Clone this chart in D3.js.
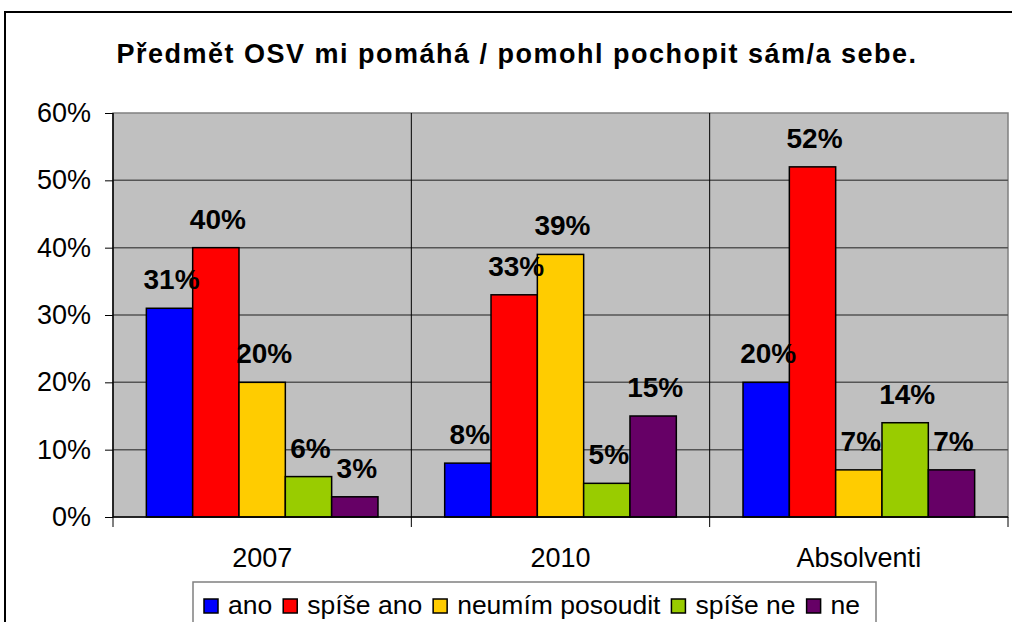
<!DOCTYPE html>
<html><head><meta charset="utf-8">
<script src="https://cdn.jsdelivr.net/npm/d3@7"></script>
<style>
html,body{margin:0;padding:0;background:#fff;}
svg{display:block;font-family:"Liberation Sans",Arial,sans-serif;}
</style></head>
<body>
<svg id="chart" width="1012" height="622"></svg>
<script>
const title = "Předmět OSV mi pomáhá / pomohl pochopit sám/a sebe.";
const categories = ["2007", "2010", "Absolventi"];
const seriesNames = ["ano", "spíše ano", "neumím posoudit", "spíše ne", "ne"];
const seriesColors = ["#0000FF", "#FF0000", "#FFCC00", "#99CC00", "#660066"];
const ano = [31, 8, 20];
const spiseAno = [40, 33, 52];
const neumim = [20, 39, 7];
const spiseNe = [6, 5, 14];
const ne = [3, 15, 7];
const yTicks = [0, 10, 20, 30, 40, 50, 60];

const seriesValues = [ano, spiseAno, neumim, spiseNe, ne];
const data = [];
categories.forEach((c, ci) => seriesNames.forEach((s, si) => data.push({cat: c, ser: s, si, v: seriesValues[si][ci]})));

const svg = d3.select("#chart");
const X0 = 113, X1 = 1008, Y0 = 113, Y1 = 517;

// outer chart border
svg.append("path").attr("d", `M5,640 L5,12 L1020,12`).attr("fill", "none").attr("stroke", "#000").attr("stroke-width", 2);

const tt = svg.append("text").attr("x", 517).attr("y", 63).attr("text-anchor", "middle")
  .attr("font-size", 27).attr("font-weight", "bold").text(title);
// spread letters to the width of the original title
const baseW = tt.node().getComputedTextLength();
tt.attr("letter-spacing", (801 - baseW) / title.length);

const y = d3.scaleLinear().domain([0, 60]).range([Y1, Y0]);
const x0 = d3.scaleBand().domain(categories).range([X0, X1]).padding(0);
const x1 = d3.scaleBand().domain(seriesNames).range([0, x0.bandwidth()]).paddingInner(0).paddingOuter(0.72);
const color = d3.scaleOrdinal().domain(seriesNames).range(seriesColors);

// plot background
svg.append("rect").attr("x", X0).attr("y", Y0).attr("width", X1 - X0).attr("height", Y1 - Y0)
  .attr("fill", "#C0C0C0").attr("stroke", "#808080").attr("stroke-width", 1.5);

// gridlines
svg.append("g").selectAll("line").data(yTicks.filter(t => t > 0 && t < 60)).join("line")
  .attr("x1", X0).attr("x2", X1).attr("y1", d => y(d)).attr("y2", d => y(d))
  .attr("stroke", "#555").attr("stroke-width", 1.5);

// category separators
svg.append("g").selectAll("line").data(categories.slice(1)).join("line")
  .attr("x1", d => x0(d)).attr("x2", d => x0(d)).attr("y1", Y0).attr("y2", Y1)
  .attr("stroke", "#000").attr("stroke-width", 1);

// bars
svg.append("g").selectAll("rect").data(data).join("rect")
  .attr("x", d => x0(d.cat) + x1(d.ser)).attr("y", d => y(d.v))
  .attr("width", x1.bandwidth()).attr("height", d => y(0) - y(d.v))
  .attr("fill", d => color(d.ser)).attr("stroke", "#000").attr("stroke-width", 1.5);

// y axis
const yAxis = d3.axisLeft(y).tickValues(yTicks).tickFormat(d => d + "%").tickSize(8).tickPadding(14);
const gy = svg.append("g").attr("transform", `translate(${X0},0)`).call(yAxis);
gy.select(".domain").attr("stroke", "#000").attr("stroke-width", 1.5).attr("d", `M0,${Y0}V${Y1}`);
gy.selectAll(".tick line").attr("stroke", "#000");
gy.selectAll("text").attr("font-size", 27).attr("font-family", "Liberation Sans, Arial, sans-serif").attr("fill", "#000");

// x axis
const xAxis = d3.axisBottom(x0).tickSize(0).tickPadding(24);
const gx = svg.append("g").attr("transform", `translate(0,${Y1})`).call(xAxis);
gx.select(".domain").attr("stroke", "#000").attr("stroke-width", 1.5).attr("d", `M${X0},0H${X1}`);
gx.selectAll("text").attr("font-size", 27).attr("font-family", "Liberation Sans, Arial, sans-serif").attr("fill", "#000").attr("dy", "0.95em");
gx.append("g").selectAll("line").data([X0, x0(categories[1]), x0(categories[2]), X1]).join("line")
  .attr("x1", d => d).attr("x2", d => d).attr("y1", 0).attr("y2", 10).attr("stroke", "#000").attr("stroke-width", 1);

// data labels
svg.append("g").selectAll("text").data(data).join("text")
  .attr("x", d => x0(d.cat) + x1(d.ser) + x1.bandwidth() / 2 + 2)
  .attr("y", d => y(d.v) - 19)
  .attr("text-anchor", "middle").attr("font-size", 28).attr("font-weight", "bold").attr("fill", "#000")
  .text(d => d.v + "%");

// legend
const lg = svg.append("g");
lg.append("rect").attr("x", 193).attr("y", 582).attr("width", 683).attr("height", 60)
  .attr("fill", "#fff").attr("stroke", "#808080").attr("stroke-width", 1.5);
let lx = 204;
seriesNames.forEach((s, i) => {
  lg.append("rect").attr("x", lx).attr("y", 599).attr("width", 14).attr("height", 14)
    .attr("fill", color(s)).attr("stroke", "#000").attr("stroke-width", 1.5);
  const t = lg.append("text").attr("x", lx + 24).attr("y", 614).attr("font-size", 26.5).attr("fill", "#000").text(s);
  lx += 24 + t.node().getComputedTextLength() + 11;
});
</script>
</body></html>
